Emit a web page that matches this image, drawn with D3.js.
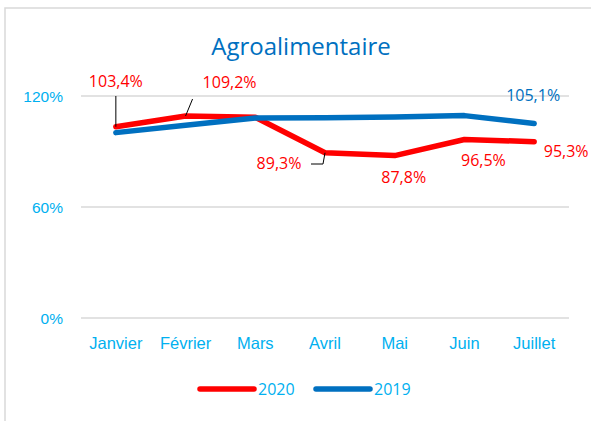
<!DOCTYPE html>
<html>
<head>
<meta charset="utf-8">
<title>Agroalimentaire</title>
<script src="https://d3js.org/d3.v7.min.js"></script>
<style>
  body { margin: 0; background: #fff; }
  svg { display: block; font-family: "Open Sans", sans-serif; }
  .axis text { fill: #00b0f0; font-size: 15.5px; }
  .axis.xaxis text { font-size: 16.5px; }
</style>
</head>
<body>
<svg id="chart" width="591" height="421"></svg>
<script>
// data
var months = ["Janvier", "Février", "Mars", "Avril", "Mai", "Juin", "Juillet"];
var values2020 = [103.4, 109.2, 108.5, 89.3, 87.8, 96.5, 95.3];
var values2019 = [100.2, 104.2, 108.1, 108.3, 108.6, 109.4, 105.1];
var yTicks = [0, 60, 120];
var seriesNames = ["2020", "2019"];

var plotLeft = 81, plotRight = 569, plotTop = 96, plotBottom = 318;

var svg = d3.select("#chart");

// cadre du graphique (seuls les bords gauche et haut sont visibles)
svg.append("path")
    .attr("d", "M5,421 V8 H591")
    .attr("fill", "none")
    .attr("stroke", "#d9d9d9")
    .attr("stroke-width", 1.5);

var x = d3.scaleBand().domain(months).range([plotLeft, plotRight]);
var y = d3.scaleLinear().domain([0, 120]).range([plotBottom, plotTop]);

// titre
svg.append("text")
    .attr("x", 301).attr("y", 55)
    .attr("text-anchor", "middle")
    .attr("fill", "#0070c0")
    .style("font-size", "24px")
    .text("Agroalimentaire");

// quadrillage
svg.append("g")
    .selectAll("line")
    .data(yTicks)
    .join("line")
    .attr("x1", plotLeft).attr("x2", plotRight)
    .attr("y1", d => y(d)).attr("y2", d => y(d))
    .attr("stroke", "#d9d9d9")
    .attr("stroke-width", 1.3);

// axe Y
var yAxis = svg.append("g")
    .attr("class", "axis")
    .attr("transform", `translate(${plotLeft - 18},0)`)
    .call(d3.axisLeft(y).tickValues(yTicks).tickSize(0).tickPadding(0).tickFormat(d => d + "%"));
yAxis.select(".domain").remove();
yAxis.selectAll("text").attr("dy", "0.35em");

// axe X
var xAxis = svg.append("g")
    .attr("class", "axis xaxis")
    .attr("transform", `translate(0,${plotBottom + 25})`)
    .call(d3.axisBottom(x).tickSize(0).tickPadding(0));
xAxis.select(".domain").remove();
xAxis.selectAll("text").attr("dy", "0.35em");

var cx = d => x(d) + x.bandwidth() / 2;

var line = d3.line()
    .x((d, i) => cx(months[i]))
    .y(d => y(d));

var colors = {"2020": "#ff0000", "2019": "#0070c0"};

svg.append("path")
    .datum(values2020)
    .attr("d", line)
    .attr("fill", "none")
    .attr("stroke", colors["2020"])
    .attr("stroke-width", 5.5)
    .attr("stroke-linecap", "round")
    .attr("stroke-linejoin", "round");

svg.append("path")
    .datum(values2019)
    .attr("d", line)
    .attr("fill", "none")
    .attr("stroke", colors["2019"])
    .attr("stroke-width", 5.5)
    .attr("stroke-linecap", "round")
    .attr("stroke-linejoin", "round");

// lignes de rappel
var lead = svg.append("g").attr("fill", "none").attr("stroke", "#000").attr("stroke-width", 1);
lead.append("line")
    .attr("x1", cx(months[0])).attr("y1", y(values2020[0]))
    .attr("x2", cx(months[0])).attr("y2", 96);
lead.append("line")
    .attr("x1", cx(months[1])).attr("y1", y(values2020[1]))
    .attr("x2", cx(months[1]) + 7).attr("y2", 99);
lead.append("path")
    .attr("d", `M${cx(months[3])},${y(values2020[3])} L${cx(months[3]) - 2},164 H311`);

// étiquettes de données : décalage par rapport au point
var fmt = v => d3.format(".1f")(v).replace(".", ",") + "%";
var labels2020 = [
    {i: 0, dx: 0, dy: -45},
    {i: 1, dx: 44, dy: -34},
    {i: 3, dx: -46, dy: 11},
    {i: 4, dx: 9, dy: 22},
    {i: 5, dx: 19, dy: 21},
    {i: 6, dx: 32, dy: 10}
];
svg.append("g")
    .selectAll("text")
    .data(labels2020)
    .join("text")
    .attr("x", d => cx(months[d.i]) + d.dx)
    .attr("y", d => y(values2020[d.i]) + d.dy)
    .attr("dy", "0.35em")
    .attr("text-anchor", "middle")
    .attr("fill", colors["2020"])
    .style("font-size", "16px")
    .text(d => fmt(values2020[d.i]));

svg.append("text")
    .attr("x", cx(months[6]) - 1)
    .attr("y", y(values2019[6]) - 28)
    .attr("dy", "0.35em")
    .attr("text-anchor", "middle")
    .attr("fill", colors["2019"])
    .style("font-size", "16px")
    .text(fmt(values2019[6]));

// légende
var legend = svg.append("g").selectAll("g")
    .data(seriesNames)
    .join("g")
    .attr("transform", (d, i) => `translate(${200 + i * 116},389)`);
legend.append("line")
    .attr("x1", 0).attr("x2", 54)
    .attr("stroke", d => colors[d])
    .attr("stroke-width", 5.5)
    .attr("stroke-linecap", "round");
legend.append("text")
    .attr("x", 58)
    .attr("dy", "0.35em")
    .attr("fill", "#00b0f0")
    .style("font-size", "16px")
    .text(d => d);
</script>
</body>
</html>
